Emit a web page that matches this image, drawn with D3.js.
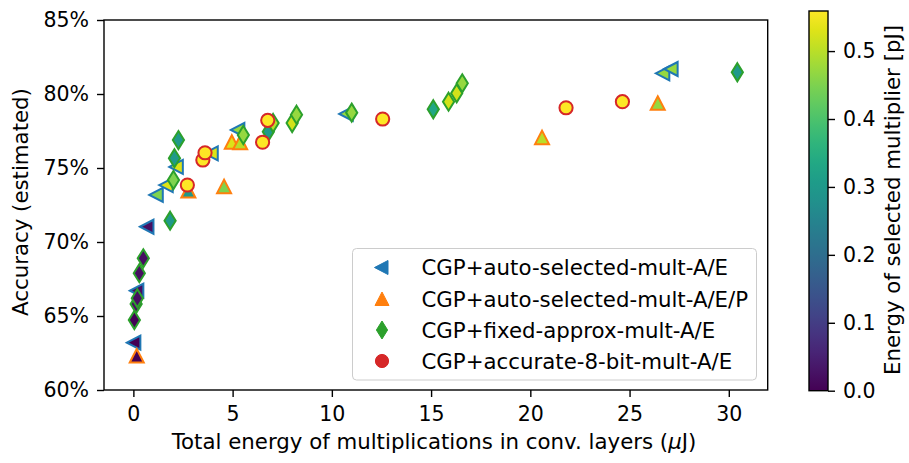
<!DOCTYPE html>
<html>
<head>
<meta charset="utf-8">
<script src="https://d3js.org/d3.v7.min.js"></script>
<style>
  body { margin: 0; background: #fff; }
  text { font-family: "DejaVu Sans", sans-serif; fill: #000; }
</style>
</head>
<body>
<script>
// energies in uJ, accuracies in %, multiplier energy in pJ
var autoX = [0.05, 0.20, 0.71, 1.18, 1.68, 2.19, 3.95, 5.29, 10.75, 26.70, 27.12];
var autoY = [63.20, 66.71, 71.03, 73.18, 73.85, 75.07, 75.99, 77.57, 78.65, 81.40, 81.69];
var autoC = [0.0, 0.02, 0.02, 0.45, 0.53, 0.53, 0.53, 0.47, 0.47, 0.47, 0.47];

var autoPX = [0.17, 2.77, 4.57, 4.96, 5.38, 20.59, 26.42];
var autoPY = [62.30, 73.45, 73.74, 76.74, 76.71, 77.05, 79.37];
var autoPC = [0.0, 0.30, 0.45, 0.53, 0.50, 0.50, 0.47];

var fixedX = [0.05, 0.14, 0.20, 0.30, 0.50, 1.85, 2.02, 2.07, 2.27, 5.54, 6.80, 7.04, 8.00, 8.22, 11.00, 15.11, 15.88, 16.29, 16.57, 30.43];
var fixedY = [64.73, 65.81, 66.20, 67.89, 68.90, 71.44, 74.19, 75.66, 76.89, 77.23, 77.45, 78.04, 78.04, 78.60, 78.74, 78.97, 79.48, 80.05, 80.72, 81.47];
var fixedC = [0.0, 0.02, 0.02, 0.02, 0.02, 0.30, 0.45, 0.30, 0.30, 0.47, 0.30, 0.50, 0.52, 0.47, 0.47, 0.33, 0.52, 0.52, 0.47, 0.30];

var accX = [2.72, 3.50, 3.61, 6.51, 6.77, 12.56, 21.80, 24.64];
var accY = [73.85, 75.54, 76.03, 76.74, 78.22, 78.31, 79.07, 79.48];
var accC = [0.559, 0.559, 0.559, 0.559, 0.559, 0.559, 0.559, 0.559];

var xTicks = [0, 5, 10, 15, 20, 25, 30];
var yTicks = [60, 65, 70, 75, 80, 85];
var cTicks = [0.0, 0.1, 0.2, 0.3, 0.4, 0.5];
var seriesNames = ["CGP+auto-selected-mult-A/E", "CGP+auto-selected-mult-A/E/P",
                   "CGP+fixed-approx-mult-A/E", "CGP+accurate-8-bit-mult-A/E"];

var W = 909, H = 463;
var L = 104, R = 767.7, T = 20, B = 390;
var tickFont = "20.5px", labelFont = "21.3px", legendFont = "21.3px";

var svg = d3.select("body").append("svg")
  .attr("width", W).attr("height", H);

var x = d3.scaleLinear().domain([-1.48, 31.96]).range([L, R]);
var y = d3.scaleLinear().domain([60, 85]).range([B, T]);
var cmax = 0.559;
var color = d3.scaleSequential(d3.interpolateViridis).domain([0, cmax]);

// marker shapes
function shapePath(kind) {
  if (kind == "left") return "M-7.5,0L6,-7L6,7Z";
  if (kind == "up") return "M0,-7L7,6.5L-7,6.5Z";
  if (kind == "diamond") return "M0,-9L5.6,0L0,9L-5.6,0Z";
  return d3.symbol(d3.symbolCircle, Math.PI * 6.6 * 6.6)();
}

var series = [
  {xs: autoX, ys: autoY, cs: autoC, kind: "left", edge: "#1f77b4"},
  {xs: autoPX, ys: autoPY, cs: autoPC, kind: "up", edge: "#ff7f0e"},
  {xs: fixedX, ys: fixedY, cs: fixedC, kind: "diamond", edge: "#2ca02c"},
  {xs: accX, ys: accY, cs: accC, kind: "circle", edge: "#d62728"}
];

var plot = svg.append("g");
series.forEach(function(s) {
  var pts = s.xs.map(function(v, i) { return {x: v, y: s.ys[i], c: s.cs[i]}; });
  plot.selectAll(null).data(pts).enter().append("path")
    .attr("d", shapePath(s.kind))
    .attr("transform", function(d) { return "translate(" + x(d.x) + "," + y(d.y) + ")"; })
    .attr("fill", function(d) { return color(d.c); })
    .attr("stroke", s.edge)
    .attr("stroke-width", 2);
});

// frame
svg.append("rect").attr("x", L).attr("y", T).attr("width", R - L).attr("height", B - T)
  .attr("fill", "none").attr("stroke", "#000").attr("stroke-width", 1.4);

var xAxis = svg.append("g").attr("transform", "translate(0," + B + ")")
  .call(d3.axisBottom(x).tickValues(xTicks).tickSize(7).tickPadding(9).tickFormat(d3.format("d")));
var yAxis = svg.append("g").attr("transform", "translate(" + L + ",0)")
  .call(d3.axisLeft(y).tickValues(yTicks).tickSize(7).tickPadding(8).tickFormat(function(d) { return d + "%"; }));
[xAxis, yAxis].forEach(function(a) {
  a.select(".domain").remove();
  a.selectAll("line").attr("stroke", "#000").attr("stroke-width", 1.4);
  a.selectAll("text").attr("font-family", "DejaVu Sans").attr("font-size", tickFont).attr("fill", "#000");
});

var xl = svg.append("text").attr("x", 434).attr("y", 449).attr("text-anchor", "middle")
  .attr("font-size", labelFont);
xl.append("tspan").text("Total energy of multiplications in conv. layers (");
xl.append("tspan").attr("font-style", "italic").text("\u03bc");
xl.append("tspan").text("J)");

svg.append("text").attr("transform", "translate(28,202) rotate(-90)")
  .attr("text-anchor", "middle").attr("font-size", labelFont).text("Accuracy (estimated)");

// legend
var lg = svg.append("g");
lg.append("rect").attr("x", 352.5).attr("y", 248.5).attr("width", 404).attr("height", 131.5)
  .attr("rx", 4).attr("fill", "#fff").attr("fill-opacity", 0.8).attr("stroke", "#cccccc");
var rowY = [267.5, 299, 330, 361];
series.forEach(function(s, i) {
  lg.append("path").attr("d", shapePath(s.kind))
    .attr("transform", "translate(382," + rowY[i] + ")")
    .attr("fill", s.edge).attr("stroke", s.edge).attr("stroke-width", 1);
  lg.append("text").attr("x", 421.5).attr("y", rowY[i]).attr("dy", "0.36em")
    .attr("font-size", legendFont).text(seriesNames[i]);
});

// colorbar
var cbL = 809, cbR = 828, cbT = 11, cbB = 390.7;
var cy = d3.scaleLinear().domain([0, cmax]).range([cbB, cbT]);
var grad = svg.append("defs").append("linearGradient").attr("id", "vir")
  .attr("x1", 0).attr("y1", 1).attr("x2", 0).attr("y2", 0);
d3.range(0, 1.0001, 0.05).forEach(function(t) {
  grad.append("stop").attr("offset", t).attr("stop-color", d3.interpolateViridis(t));
});
svg.append("rect").attr("x", cbL).attr("y", cbT).attr("width", cbR - cbL).attr("height", cbB - cbT)
  .attr("fill", "url(#vir)").attr("stroke", "#000").attr("stroke-width", 1.4);
var cAxis = svg.append("g").attr("transform", "translate(" + cbR + ",0)")
  .call(d3.axisRight(cy).tickValues(cTicks).tickSize(7).tickPadding(8).tickFormat(d3.format(".1f")));
cAxis.select(".domain").remove();
cAxis.selectAll("line").attr("stroke", "#000").attr("stroke-width", 1.4);
cAxis.selectAll("text").attr("font-family", "DejaVu Sans").attr("font-size", tickFont).attr("fill", "#000");

svg.append("text").attr("transform", "translate(900,200) rotate(-90)")
  .attr("text-anchor", "middle").attr("font-size", labelFont).text("Energy of selected multiplier [pJ]");
</script>
</body>
</html>
